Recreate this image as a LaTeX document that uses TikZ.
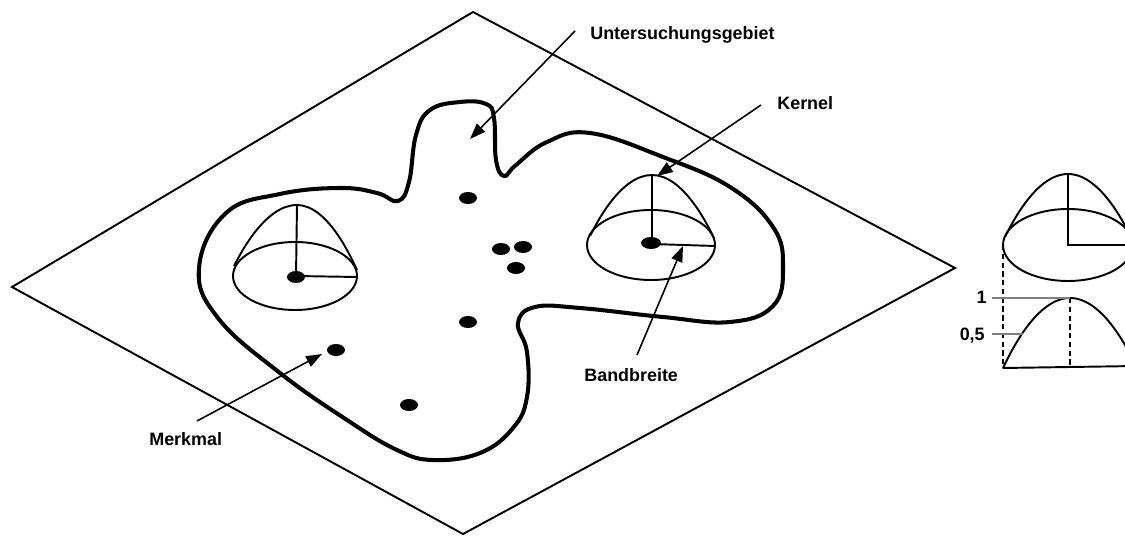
\documentclass[tikz,border=0pt]{standalone}
\usepackage{fontspec}
\setmainfont{Liberation Sans}
\usetikzlibrary{arrows.meta}
\begin{document}
\begin{tikzpicture}[x=0.02cm,y=-0.02cm,
  plane/.style={line width=1.1pt,line join=miter},
  blob/.style={line width=2.3pt},
  cone/.style={line width=1.1pt},
  feature/.style={fill=black,draw=none},
  pointer/.style={line width=0.9pt,-{Triangle[length=9pt,width=6.5pt]}},
  lbl/.style={inner sep=0pt,anchor=base west,font=\fontsize{10.2}{12}\selectfont\bfseries},
  guide/.style={draw=gray,line width=0.8pt},
  drop/.style={line width=1pt,densely dashed}]
\useasboundingbox (0,0) rectangle (1125,536);
\clip (0,0) rectangle (1125,536);
\fill[white] (0,0) rectangle (1125,536);

% plane
\coordinate (pT) at (473,12);
\coordinate (pR) at (955,268);
\coordinate (pB) at (463,534);
\coordinate (pL) at (12,287);
\draw[plane] (pT) -- (pR) -- (pB) -- (pL) -- cycle;

% study area
\draw[blob] plot[smooth cycle,tension=0.7] coordinates {
 (199,268) (226,213) (280,194) (340,188) (377,193) (398,201) (409,182)
 (416,135) (430,110) (460,102) (486,104) (494,118) (496,160) (504,176)
 (516,165) (547,142) (590,133) (663,157) (730,187) (773,227) (783,267)
 (773,306) (730,322) (663,317) (580,308) (535,307) (518,323) (527,352)
 (527,397) (513,428) (480,453) (433,460) (397,450) (347,420) (280,373)
 (218,318)};

% left kernel
\draw[cone] (295,276) ellipse [x radius=62,y radius=34];
\draw[cone] (234,266) parabola bend (297,205) (357,270);
\draw[cone] (297,205) -- (296,276) -- (357,277);
\fill[feature] (296,277) ellipse [x radius=9,y radius=6];

% right kernel
\draw[cone] (651,245) ellipse [x radius=64,y radius=35];
\draw[cone] (590,236) parabola bend (652,175) (714,238);
\coordinate (kapex) at (652,175);
\coordinate (kband) at (683,246);
\draw[cone] (kapex) -- (652,244) -- (715,246);
\fill[feature] (651,243) ellipse [x radius=10,y radius=6];

% features
\foreach \n/\p in {f1/{(468,198)},f2/{(501,249)},f3/{(523,247)},f4/{(516,268)},
  f5/{(468,322)},f6/{(336,350)},f7/{(409,405)}}
  \fill[feature] \p ellipse [x radius=9,y radius=6];

% labels
\node[lbl] (lU) at (590,40) {Untersuchungsgebiet};
\node[lbl] (lK) at (777,110) {Kernel};
\node[lbl] (lB) at (584,382) {Bandbreite};
\node[lbl] (lM) at (149,445) {Merkmal};

\coordinate (tU) at (575,31);
\coordinate (hU) at (470,139);
\coordinate (tK) at (761,105);
\coordinate (hK) at (657,176);
\coordinate (tB) at (637,355);
\coordinate (tM) at (197,421);
\coordinate (hM) at (322,354);
\draw[pointer] (tU) -- (hU);
\draw[pointer] (tK) -- (hK);
\draw[pointer] (tB) -- (kband);
\draw[pointer] (tM) -- (hM);

% inset: kernel profile
\draw[cone] (1068,245) ellipse [x radius=65,y radius=36];
\draw[cone] (1005,237) parabola bend (1068,174) (1131,237);
\draw[cone] (1068,174) -- (1068,245) -- (1135,245);
\coordinate (bL) at (1003,368);
\coordinate (bR) at (1137,366);
\coordinate (bApex) at (1070,298);
\draw[drop] (1003,245) -- (bL);
\draw[cone] (bL) -- (bR);
\draw[cone] (bL) parabola bend (bApex) (1137,368);
\draw[drop] (bApex) -- (1070,367);
\node[lbl,anchor=base east] (l1) at (987,304) {1};
\node[lbl,anchor=base east] (l05) at (985,341) {0,5};
\draw[guide] (992,298) -- (bApex);
\draw[guide] (992,334) -- (1023,334);
\end{tikzpicture}
\end{document}
